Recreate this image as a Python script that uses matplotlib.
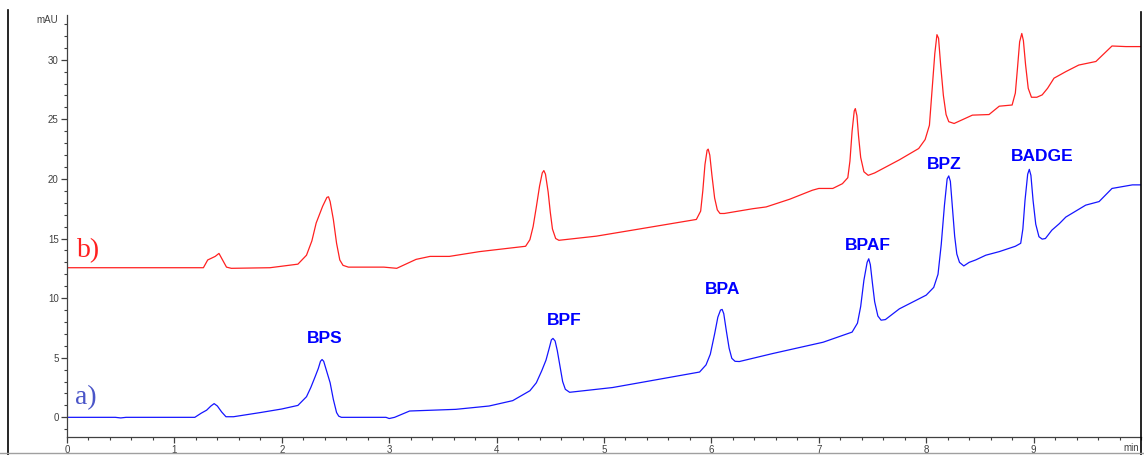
import matplotlib
matplotlib.use("Agg")
import matplotlib.pyplot as plt
from matplotlib.ticker import MultipleLocator, FixedLocator
from matplotlib.lines import Line2D

# ---- data (time in min, absorbance in mAU) ----
# trace a) (blue)
a_t = [0, 0.45, 0.5, 0.55, 1.19, 1.25, 1.30, 1.34, 1.37, 1.40, 1.44, 1.48, 1.55, 1.80, 2.00, 2.15,
       2.23, 2.27, 2.31, 2.34, 2.36, 2.375, 2.39, 2.42, 2.45, 2.48, 2.51, 2.53, 2.555,
       2.97, 3.0, 3.05, 3.19, 3.62, 3.93, 4.15, 4.31, 4.37, 4.42, 4.46, 4.49, 4.51, 4.525,
       4.545, 4.565, 4.59, 4.615, 4.64, 4.68, 5.08, 5.33, 5.89, 5.95, 5.99, 6.03, 6.06, 6.085,
       6.10, 6.115, 6.14, 6.165, 6.19, 6.22, 6.26, 6.57, 7.04, 7.31, 7.36, 7.39, 7.42, 7.45,
       7.465, 7.48, 7.50, 7.52, 7.55, 7.58, 7.62, 7.75, 8.0, 8.07, 8.11, 8.14, 8.17, 8.195,
       8.21, 8.225, 8.245, 8.265, 8.285, 8.31, 8.35, 8.40, 8.46, 8.555, 8.68, 8.83, 8.88, 8.90,
       8.92, 8.945, 8.96, 8.975, 8.995, 9.02, 9.05, 9.08, 9.11, 9.17, 9.24, 9.30, 9.485, 9.61,
       9.73, 9.92, 10.0]
a_v = [0, 0, -0.05, 0, 0, 0.35, 0.6, 0.95, 1.15, 0.95, 0.45, 0.05, 0.05, 0.4, 0.7, 1.0,
       1.73, 2.5, 3.4, 4.1, 4.7, 4.85, 4.7, 3.8, 2.9, 1.5, 0.4, 0.1, 0,
       0, -0.1, 0, 0.53, 0.67, 0.95, 1.4, 2.23, 2.9, 3.9, 4.8, 5.8, 6.5, 6.62,
       6.4, 5.6, 4.3, 3.0, 2.35, 2.1, 2.5, 2.9, 3.8, 4.4, 5.3, 7.0, 8.4, 9.0,
       9.05, 8.7, 7.2, 5.8, 4.95, 4.7, 4.68, 5.35, 6.3, 7.15, 7.9, 9.3, 11.5, 13.0,
       13.3, 12.8, 11.2, 9.7, 8.5, 8.15, 8.2, 9.1, 10.25, 10.9, 12.0, 14.5, 17.8, 20.0,
       20.25, 19.8, 17.5, 15.2, 13.7, 13.0, 12.7, 13.0, 13.2, 13.6, 13.9, 14.35, 14.6, 15.8,
       18.2, 20.4, 20.8, 20.3, 18.2, 16.2, 15.15, 14.95, 15.0, 15.7, 16.25, 16.8, 17.8, 18.1,
       19.2, 19.5, 19.5]

# trace b) (red)
b_t = [0, 1.27, 1.31, 1.38, 1.415, 1.485, 1.53, 1.89, 2.15, 2.23, 2.28, 2.32, 2.38, 2.42, 2.435,
       2.45, 2.48, 2.51, 2.54, 2.57, 2.62, 2.95, 3.07, 3.25, 3.38, 3.56, 3.84, 4.27, 4.31, 4.34,
       4.37, 4.40, 4.425, 4.44, 4.455, 4.48, 4.50, 4.52, 4.55, 4.58, 4.93, 5.33, 5.86, 5.90,
       5.92, 5.94, 5.96, 5.97, 5.985, 6.005, 6.03, 6.055, 6.08, 6.12, 6.385, 6.51, 6.73, 6.94,
       7.0, 7.13, 7.22, 7.27, 7.29, 7.31, 7.33, 7.34, 7.355, 7.37, 7.39, 7.42, 7.46, 7.52, 7.75,
       7.93, 7.99, 8.03, 8.055, 8.08, 8.10, 8.115, 8.135, 8.16, 8.185, 8.21, 8.26, 8.43, 8.585,
       8.68, 8.80, 8.83, 8.85, 8.87, 8.89, 8.905, 8.925, 8.95, 8.98, 9.03, 9.08, 9.13, 9.19,
       9.30, 9.42, 9.58, 9.73, 9.86, 10.0]
b_v = [12.55, 12.55, 13.2, 13.5, 13.75, 12.6, 12.5, 12.55, 12.85, 13.6, 14.8, 16.3, 17.7, 18.45, 18.5,
       18.1, 16.6, 14.6, 13.2, 12.75, 12.6, 12.6, 12.5, 13.25, 13.5, 13.5, 13.9, 14.35, 14.9, 16.0,
       17.65, 19.4, 20.5, 20.7, 20.4, 18.9, 17.2, 15.8, 15.0, 14.85, 15.2, 15.8, 16.6, 17.3,
       19.0, 21.2, 22.4, 22.5, 22.0, 20.3, 18.4, 17.4, 17.1, 17.1, 17.5, 17.65, 18.3, 19.05,
       19.2, 19.2, 19.6, 20.1, 21.5, 24.0, 25.7, 25.9, 25.3, 23.6, 21.8, 20.6, 20.3, 20.5, 21.6,
       22.55, 23.3, 24.5, 27.5, 30.5, 32.1, 31.8, 29.5, 27.0, 25.4, 24.8, 24.65, 25.35, 25.4,
       26.1, 26.2, 27.2, 29.3, 31.5, 32.2, 31.6, 29.6, 27.6, 26.85, 26.85, 27.05, 27.6, 28.45,
       29.0, 29.55, 29.85, 31.15, 31.1, 31.1]

peak_names = ["BPS", "BPF", "BPA", "BPAF", "BPZ", "BADGE"]
peak_label_t = [2.40, 4.63, 6.105, 7.455, 8.17, 9.08]
peak_label_v = [6.63, 8.16, 10.74, 14.4, 21.17, 21.9]

x_ticks = [0, 1, 2, 3, 4, 5, 6, 7, 8, 9]
y_ticks = [0, 5, 10, 15, 20, 25, 30]

W, H = 1144, 455
fig = plt.figure(figsize=(W / 100, H / 100), dpi=100)
ax = fig.add_axes([67 / W, (H - 437) / H, (1141 - 67) / W, (437 - 15) / H])

ax.plot(b_t, b_v, color="#ff2020", lw=0.9)
ax.plot(a_t, a_v, color="#1515ff", lw=0.9)

ax.set_xlim(0, 10)
ax.set_ylim(-1.65, 33.75)

for s in ["top", "right"]:
    ax.spines[s].set_visible(False)
for s in ["left", "bottom"]:
    ax.spines[s].set_color("#404040")
    ax.spines[s].set_linewidth(0.9)

ax.xaxis.set_major_locator(FixedLocator(x_ticks))
ax.xaxis.set_minor_locator(MultipleLocator(0.2))
ax.yaxis.set_major_locator(FixedLocator(y_ticks))
ax.yaxis.set_minor_locator(MultipleLocator(1))
ax.tick_params(which="major", length=4, width=0.9, color="#404040",
               labelsize=7, labelcolor="#404040", pad=2)
ax.tick_params(which="minor", length=2.5, width=0.8, color="#404040")
for lab in ax.get_xticklabels() + ax.get_yticklabels():
    lab.set_family("Liberation Sans")

for name, t, v in zip(peak_names, peak_label_t, peak_label_v):
    ax.text(t, v, name, color="#0000ff", fontsize=12.5, fontweight="bold",
            family="Liberation Sans", ha="center", va="center")

ax.text(0.09, 14.0, "b)", color="#ff2020", fontsize=20, family="Liberation Serif",
        ha="left", va="center")
ax.text(0.07, 1.65, "a)", color="#4a55c8", fontsize=20, family="Liberation Serif",
        ha="left", va="center")

fig.text(47 / W, 1 - 20 / H, "mAU", fontsize=7, color="#404040", ha="center", va="center",
         family="Liberation Sans")
fig.text(1131 / W, 1 - 448 / H, "min", fontsize=7, color="#404040", ha="center", va="center",
         family="Liberation Sans")

# outer frame lines
fig.add_artist(Line2D([8 / W, 8 / W], [0, 1 - 10 / H], color="black", lw=1.2,
                      transform=fig.transFigure))
fig.add_artist(Line2D([1141 / W, 1141 / W], [0, 1 - 12 / H], color="black", lw=1.2,
                      transform=fig.transFigure))
fig.add_artist(Line2D([0, 1], [2 / H, 2 / H], color="#a0a0a0", lw=1.0,
                      transform=fig.transFigure))

fig.savefig("out.png", dpi=100)
